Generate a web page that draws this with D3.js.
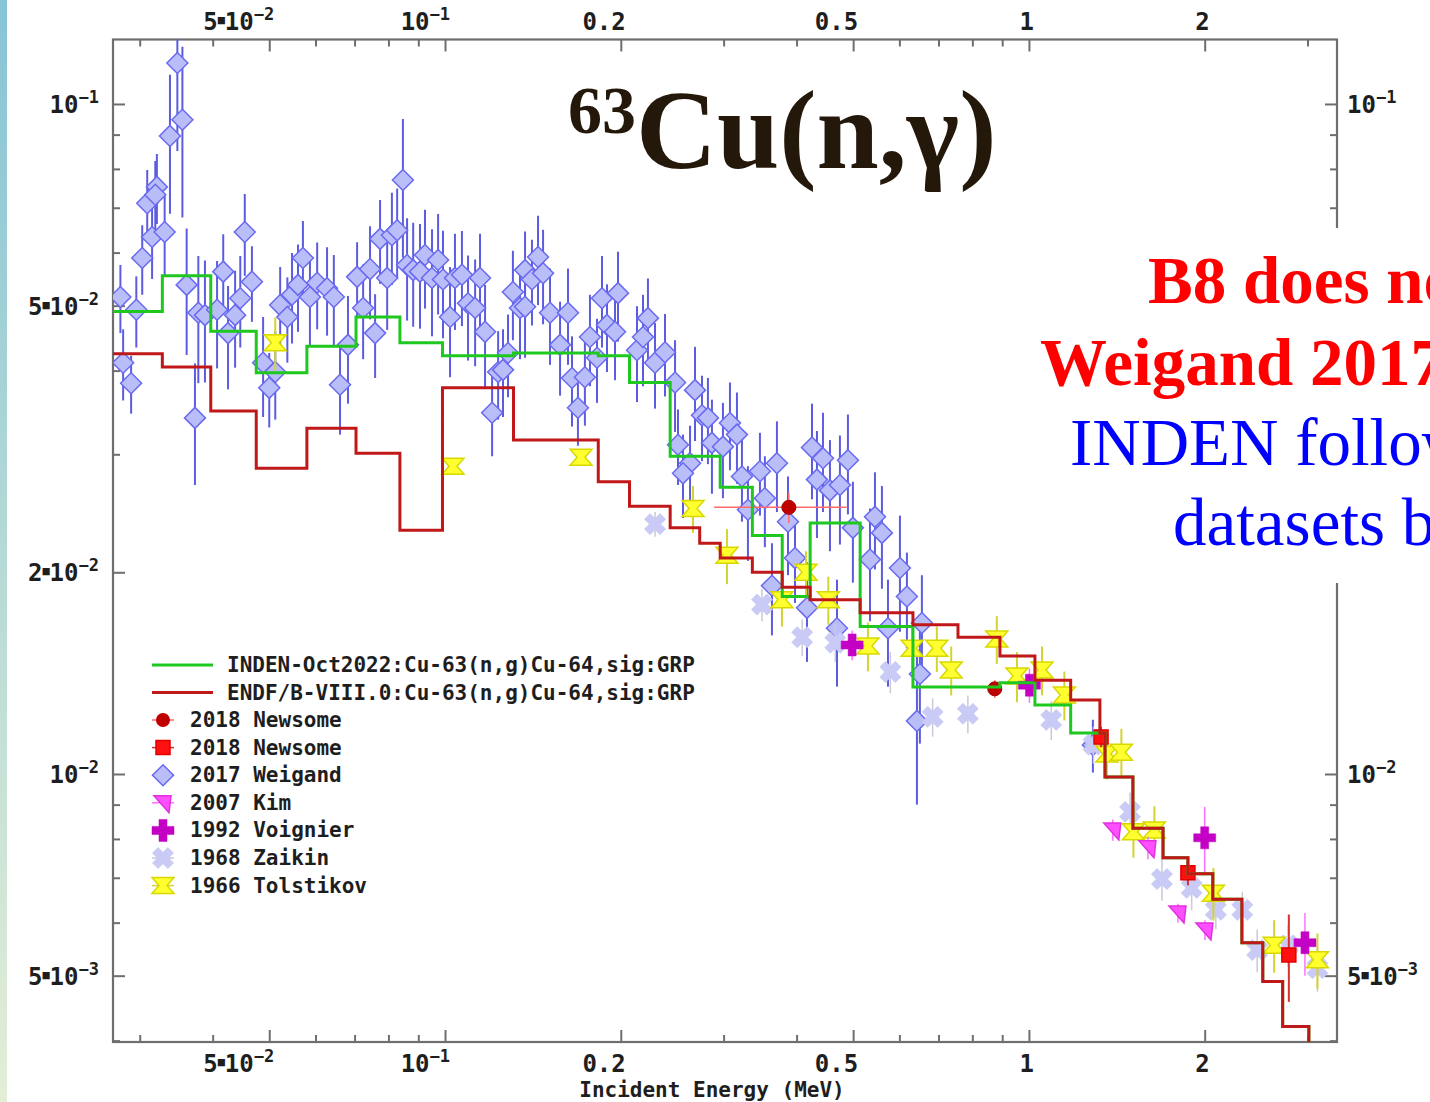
<!DOCTYPE html>
<html>
<head>
<meta charset="utf-8">
<script src="https://cdn.jsdelivr.net/npm/d3@7"></script>
<style>
  body { margin: 0; background: #fff; overflow: hidden; }
  svg { display: block; }
</style>
</head>
<body>
<svg id="chart" width="1430" height="1102"></svg>
<script>
// ---- Evaluated group-wise cross sections (MeV, barn) ----
const indenEdges  = [0.027, 0.0328, 0.0397, 0.0475, 0.058, 0.0704, 0.0837, 0.099, 0.131, 0.183, 0.207, 0.243, 0.296, 0.336, 0.378, 0.422, 0.514, 0.633, 0.892, 1.024, 1.179, 1.323, 1.35, 1.507, 1.697, 1.872, 2.065, 2.316, 2.515, 2.72, 3.016, 3.4];
const indenValues = [0.0490, 0.0554, 0.0458, 0.0397, 0.0435, 0.0481, 0.0440, 0.0421, 0.0425, 0.0421, 0.0384, 0.0298, 0.0268, 0.0227, 0.0184, 0.0237, 0.0166, 0.01349, 0.01368, 0.01268, 0.01151, 0.0115, 0.0099, 0.0083, 0.0075, 0.0071, 0.0065, 0.0056, 0.0049, 0.0042, 0.0038];

const endfEdges  = [0.027, 0.0328, 0.0397, 0.0475, 0.058, 0.0704, 0.0837, 0.099, 0.131, 0.183, 0.207, 0.243, 0.273, 0.296, 0.336, 0.378, 0.422, 0.514, 0.633, 0.756, 0.892, 1.024, 1.179, 1.323, 1.35, 1.507, 1.697, 1.872, 2.065, 2.316, 2.515, 2.72, 3.016, 3.4];
const endfValues = [0.0424, 0.0405, 0.0348, 0.0286, 0.0328, 0.0301, 0.0231, 0.0377, 0.0315, 0.0273, 0.0251, 0.0233, 0.0221, 0.0210, 0.0200, 0.0190, 0.0182, 0.0174, 0.0167, 0.0160, 0.0150, 0.0138, 0.0129, 0.0115, 0.0099, 0.0083, 0.0075, 0.0071, 0.0065, 0.0056, 0.0049, 0.0042, 0.0038];

// ---- Measured data: [energy MeV, sigma b, d-sigma b, (d-energy MeV)] ----
const newsomeCircle = [[0.388, 0.0250, 0.0013, 0.099], [0.874, 0.01340, 0.0004, 0.0]];
const newsomeSquare = [[1.329, 0.01136, 0.0004], [1.872, 0.00712, 0.0003], [2.787, 0.00537, 0.0008]];

const weigand = [
  [0.0278,0.0515,0.006],[0.0281,0.0411,0.005],[0.0290,0.0383,0.0038],[0.0296,0.0493,0.006],
  [0.0303,0.0589,0.007],[0.0309,0.0711,0.0086],[0.0315,0.0633,0.0085],[0.0321,0.0752,0.009],
  [0.0319,0.0732,0.009],[0.0331,0.0644,0.009],[0.0338,0.0896,0.021],[0.0348,0.1151,0.03],
  [0.0355,0.0947,0.027],[0.0361,0.0537,0.0115],[0.0373,0.0340,0.007],[0.0378,0.0488,0.0105],
  [0.0388,0.0484,0.01],[0.0407,0.0493,0.009],[0.0417,0.0562,0.0077],[0.0425,0.0455,0.008],
  [0.0437,0.0484,0.008],[0.0446,0.0513,0.008],[0.0454,0.0644,0.009],[0.0467,0.0543,0.007],
  [0.0488,0.0411,0.007],[0.0500,0.0377,0.0048],[0.0512,0.0398,0.006],[0.0522,0.0501,0.007],
  [0.0537,0.0481,0.007],[0.0547,0.0519,0.008],[0.0560,0.0537,0.008],[0.0571,0.0589,0.008],
  [0.0587,0.0515,0.008],[0.0604,0.0541,0.008],[0.0628,0.0531,0.008],[0.0645,0.0515,0.008],
  [0.0661,0.0381,0.006],[0.0682,0.0437,0.008],[0.0707,0.0552,0.007],[0.0724,0.0496,0.008],
  [0.0744,0.0567,0.009],[0.0759,0.0455,0.0065],[0.0774,0.0629,0.009],[0.0796,0.0550,0.009],
  [0.0811,0.0637,0.01],[0.0828,0.0648,0.01],[0.0847,0.0770,0.018],[0.0861,0.0575,0.01],
  [0.0882,0.0565,0.01],[0.0906,0.0562,0.01],[0.0924,0.0595,0.01],[0.0950,0.0550,0.01],
  [0.0973,0.0585,0.01],[0.0992,0.0547,0.01],[0.1020,0.0481,0.009],[0.1040,0.0550,0.009],
  [0.1069,0.0556,0.009],[0.1095,0.0504,0.009],[0.1126,0.0496,0.009],[0.1148,0.0550,0.009],
  [0.1171,0.0457,0.008],[0.1204,0.0346,0.0048],[0.1233,0.0398,0.006],[0.1257,0.0401,0.006],
  [0.1282,0.0425,0.006],[0.1307,0.0524,0.008],[0.1344,0.0496,0.008],[0.1371,0.0565,0.008],
  [0.1409,0.0547,0.008],[0.1443,0.0591,0.009],[0.1472,0.0559,0.009],[0.1371,0.0498,0.008],
  [0.1513,0.0488,0.008],[0.1624,0.0488,0.008],[0.1574,0.0437,0.007],[0.1650,0.0390,0.006],
  [0.1689,0.0352,0.0043],[0.1736,0.0391,0.006],[0.1771,0.0449,0.007],[0.1857,0.0513,0.008],
  [0.1894,0.0468,0.007],[0.1978,0.0522,0.008],[0.1955,0.0457,0.007],[0.1821,0.0418,0.006],
  [0.2132,0.0429,0.007],[0.2183,0.0449,0.007],[0.2226,0.0479,0.007],[0.2289,0.0411,0.006],
  [0.2381,0.0426,0.006],[0.2477,0.0384,0.006],[0.2680,0.0374,0.006],[0.2755,0.0343,0.005],
  [0.2820,0.0340,0.005],[0.2865,0.0312,0.005],[0.2992,0.0308,0.005],[0.3076,0.0334,0.005],
  [0.3162,0.0321,0.005],[0.2506,0.0310,0.004],[0.2628,0.0291,0.004],[0.2556,0.0281,0.004],
  [0.3225,0.0278,0.004],[0.3302,0.0248,0.004],[0.3462,0.0283,0.004],[0.3530,0.0258,0.004],
  [0.3702,0.0291,0.0045],[0.3867,0.0238,0.004],[0.3975,0.0210,0.003],[0.3630,0.0191,0.003],
  [0.4168,0.0177,0.003],[0.4251,0.0307,0.005],[0.4335,0.0275,0.005],[0.4439,0.0296,0.005],
  [0.4563,0.0265,0.005],[0.4746,0.0270,0.005],[0.4898,0.0294,0.005],[0.4995,0.0233,0.004],
  [0.5343,0.0209,0.004],[0.5449,0.0242,0.004],[0.5601,0.0229,0.004],[0.6013,0.0203,0.004],
  [0.6181,0.0184,0.003],[0.4691,0.0165,0.003],[0.5736,0.0165,0.003],[0.6557,0.0168,0.003],
  [0.6505,0.0141,0.003],[0.643,0.0120,0.003],[1.287,0.01105,0.001]
];

const kim = [[1.392, 0.00825, 0.0003], [1.599, 0.00776, 0.0003], [1.800, 0.00620, 0.0002], [2.002, 0.00585, 0.0002]];
const voignier = [[0.498, 0.01558, 0.0008], [1.002, 0.01357, 0.0008], [2.000, 0.00803, 0.0009], [2.970, 0.00560, 0.0006]];
const zaikin = [
  [0.2289,0.0236,0.001],[0.3490,0.0179,0.001],[0.409,0.0160,0.001],[0.466,0.0157,0.001],
  [0.579,0.0142,0.001],[0.684,0.01217,0.0008],[0.786,0.0123,0.0008],[1.092,0.01204,0.0008],
  [1.29,0.01106,0.0007],[1.49,0.00878,0.0006],[1.69,0.00697,0.0005],[1.90,0.00676,0.0005],
  [2.09,0.00627,0.0004],[2.32,0.00627,0.0004],[2.46,0.00546,0.0004],[2.78,0.00555,0.0004],[3.12,0.00513,0.0004]
];
const tolstikov = [
  [0.0512,0.0440,0.004],[0.1032,0.0288,0.0006],[0.1710,0.0297,0.0006],[0.2659,0.0249,0.002],
  [0.3040,0.0212,0.002],[0.3776,0.0182,0.0016],[0.4152,0.0200,0.0015],[0.4534,0.0182,0.0015],
  [0.530,0.01553,0.0013],[0.631,0.0154,0.0012],[0.6955,0.0154,0.0012],[0.7361,0.0143,0.0012],
  [0.881,0.0159,0.0013],[0.954,0.0140,0.0012],[1.053,0.0143,0.0012],[1.15,0.01312,0.0011],
  [1.36,0.01071,0.0009],[1.44,0.01078,0.0009],[1.51,0.00820,0.0007],[1.64,0.00825,0.0007],
  [2.07,0.00664,0.0006],[2.63,0.00555,0.0005],[3.12,0.00528,0.0005]
];

const xTickMajor = [0.05, 0.1, 0.2, 0.5, 1, 2];
const xTickLabels = [["5", "−2"], ["", "−1"], ["0.2"], ["0.5"], ["1"], ["2"]];
const yTickMajor = [0.1, 0.05, 0.02, 0.01, 0.005];
const yTickLabels = [["", "−1"], ["5", "−2"], ["2", "−2"], ["", "−2"], ["5", "−3"]];

const legendLines = ["INDEN-Oct2022:Cu-63(n,g)Cu-64,sig:GRP", "ENDF/B-VIII.0:Cu-63(n,g)Cu-64,sig:GRP"];
const legendSeries = ["2018 Newsome", "2018 Newsome", "2017 Weigand", "2007 Kim", "1992 Voignier", "1968 Zaikin", "1966 Tolstikov"];
const noteLines = ["B8 does not", "Weigand 2017", "INDEN follows", "datasets b"];

// ---- Layout ----
const P = { left: 113, right: 1337, top: 39.5, bottom: 1042 };
const panel = { x: 1035, y: 228, w: 400, h: 355 };   // white annotation panel on the right
const x = d3.scaleLog().domain([0.027, 3.37]).range([P.left, P.right]);
const y = d3.scaleLog().domain([0.1248, 0.003981]).range([P.top, P.bottom]);

const svg = d3.select("#chart");
const MONO = "'DejaVu Sans Mono', monospace";
const SERIF = "'Liberation Serif', 'Times New Roman', serif";

// left decorative strip
const defs = svg.append("defs");
const grad = defs.append("linearGradient").attr("id", "strip").attr("x1", 0).attr("x2", 0).attr("y1", 0).attr("y2", 1);
grad.append("stop").attr("offset", "0%").attr("stop-color", "#86c4d6");
grad.append("stop").attr("offset", "100%").attr("stop-color", "#e3eed6");
svg.append("rect").attr("x", 0).attr("y", 0).attr("width", 7).attr("height", 1102).attr("fill", "url(#strip)");

defs.append("clipPath").attr("id", "plotClip").append("rect")
  .attr("x", P.left).attr("y", P.top).attr("width", P.right - P.left).attr("height", P.bottom - P.top);

// ---- Ticks ----
function logTicks(lo, hi) {
  const out = [];
  for (let e = -3; e <= 1; e++) for (let m = 1; m < 10; m++) {
    const v = m * Math.pow(10, e);
    if (v >= lo && v <= hi) out.push(+v.toPrecision(3));
  }
  return out;
}
const xMinor = logTicks(0.027, 3.37).filter(v => !xTickMajor.some(t => Math.abs(t - v) < 1e-9));
const yMinor = logTicks(0.003981, 0.1248).filter(v => !yTickMajor.some(t => Math.abs(t - v) < 1e-9));

const axisStyle = g => g.call(s => s.select(".domain").remove())
  .call(s => s.selectAll("line").attr("stroke", "#6e6e6e").attr("stroke-width", 2));

svg.append("g").attr("transform", `translate(0,${P.bottom})`)
  .call(d3.axisBottom(x).tickValues(xMinor).tickSize(-7).tickFormat("")).call(axisStyle);
svg.append("g").attr("transform", `translate(0,${P.bottom})`)
  .call(d3.axisBottom(x).tickValues(xTickMajor).tickSize(-12).tickFormat("")).call(axisStyle);
svg.append("g").attr("transform", `translate(0,${P.top})`)
  .call(d3.axisTop(x).tickValues(xMinor).tickSize(-7).tickFormat("")).call(axisStyle);
svg.append("g").attr("transform", `translate(0,${P.top})`)
  .call(d3.axisTop(x).tickValues(xTickMajor).tickSize(-12).tickFormat("")).call(axisStyle);
svg.append("g").attr("transform", `translate(${P.left},0)`)
  .call(d3.axisLeft(y).tickValues(yMinor).tickSize(-7).tickFormat("")).call(axisStyle);
svg.append("g").attr("transform", `translate(${P.left},0)`)
  .call(d3.axisLeft(y).tickValues(yTickMajor).tickSize(-12).tickFormat("")).call(axisStyle);
svg.append("g").attr("transform", `translate(${P.right},0)`)
  .call(d3.axisRight(y).tickValues(yMinor).tickSize(-7).tickFormat("")).call(axisStyle);
svg.append("g").attr("transform", `translate(${P.right},0)`)
  .call(d3.axisRight(y).tickValues(yTickMajor).tickSize(-12).tickFormat("")).call(axisStyle);

// frame
svg.append("rect").attr("x", P.left).attr("y", P.top)
  .attr("width", P.right - P.left).attr("height", P.bottom - P.top)
  .attr("fill", "none").attr("stroke", "#6e6e6e").attr("stroke-width", 2.2);

// tick labels: mantissa × 10^exp
function tickLabel(g, lab, px, py, anchor) {
  const t = g.append("text").attr("x", px).attr("y", py).attr("text-anchor", anchor)
    .attr("font-family", MONO).attr("font-weight", "bold").attr("font-size", 24).attr("fill", "#1e1e1e");
  if (lab.length === 1) { t.text(lab[0]); return; }
  if (lab[0]) {
    t.append("tspan").text(lab[0]);
    t.append("tspan").attr("font-size", 12).attr("dy", -6).text("■");
    t.append("tspan").attr("dy", 6).text("10");
  } else t.append("tspan").text("10");
  t.append("tspan").attr("font-size", 17).attr("dy", -10).text(lab[1]);
}
const labels = svg.append("g");
xTickMajor.forEach((v, i) => {
  tickLabel(labels, xTickLabels[i], x(v) + 5, 30, "end");
  tickLabel(labels, xTickLabels[i], x(v) + 5, 1072, "end");
});
yTickMajor.forEach((v, i) => {
  tickLabel(labels, yTickLabels[i], 99, y(v) + 9, "end");
  const yy = y(v);
  if (yy < panel.y - 10 || yy > panel.y + panel.h + 10)   // right-hand labels behind the panel stay hidden
    tickLabel(labels, yTickLabels[i], 1347, yy + 9, "start");
});

svg.append("text").attr("x", 712).attr("y", 1097).attr("text-anchor", "middle")
  .attr("font-family", MONO).attr("font-weight", "bold").attr("font-size", 21).attr("fill", "#1e1e1e")
  .text("Incident Energy (MeV)");

// ---- Marker shapes ----
const plusPath = "M-4,-11H4V-4H11V4H4V11H-4V4H-11V-4H-4Z";
const shapes = {
  diamond: "M0,-10.5L10.5,0L0,10.5L-10.5,0Z",
  square: "M-7,-7H7V7H-7Z",
  flag: "M-9,-7L8,-7L6,10Z",
  plus: plusPath,
  cross: plusPath,
  hourglass: "M-11,-8L11,-8L4,0L11,8L-11,8L-4,0Z"
};
const shapeRotate = { cross: 45 };

const plot = svg.append("g").attr("clip-path", "url(#plotClip)");

function markerTransform(shape, px, py) {
  return `translate(${px},${py})` + (shapeRotate[shape] ? ` rotate(${shapeRotate[shape]})` : "");
}

function drawSeries(data, opt) {
  const g = plot.append("g");
  g.selectAll("line.v").data(data).join("line")
    .attr("x1", d => x(d[0])).attr("x2", d => x(d[0]))
    .attr("y1", d => y(d[1] + d[2])).attr("y2", d => y(Math.max(d[1] - d[2], 1e-4)))
    .attr("stroke", opt.bar).attr("stroke-width", opt.barW || 2);
  g.selectAll("line.h").data(data.filter(d => d[3])).join("line")
    .attr("x1", d => x(d[0] - d[3])).attr("x2", d => x(d[0] + d[3]))
    .attr("y1", d => y(d[1])).attr("y2", d => y(d[1]))
    .attr("stroke", opt.bar).attr("stroke-width", opt.barW || 2);
  if (opt.circle) {
    g.selectAll("circle").data(data).join("circle")
      .attr("cx", d => x(d[0])).attr("cy", d => y(d[1])).attr("r", 7)
      .attr("fill", opt.fill).attr("stroke", opt.stroke).attr("stroke-width", 1);
  } else {
    g.selectAll("path").data(data).join("path")
      .attr("transform", d => markerTransform(opt.shape, x(d[0]), y(d[1])))
      .attr("d", shapes[opt.shape]).attr("fill", opt.fill)
      .attr("stroke", opt.stroke).attr("stroke-width", opt.sw || 1.5);
  }
}

const styles = [
  { circle: true, fill: "#c00000", stroke: "#a00000", bar: "#ff6a6a", barW: 1.5 },
  { shape: "square", fill: "#ff1010", stroke: "#e00000", bar: "#d83030", barW: 2 },
  { shape: "diamond", fill: "#b9bdf8", stroke: "#6a6af0", bar: "#5c5ce0", barW: 2 },
  { shape: "flag", fill: "#ff50ff", stroke: "#e030e0", bar: "#ff70ff", barW: 1.5 },
  { shape: "plus", fill: "#c400c4", stroke: "#c400c4", bar: "#ff70ff", barW: 1.5, sw: 0.5 },
  { shape: "cross", fill: "#c9cbf6", stroke: "#c2c4f0", bar: "#c9c9d8", barW: 1.5, sw: 0.5 },
  { shape: "hourglass", fill: "#ffff30", stroke: "#d8d800", bar: "#d4d430", barW: 2 }
];

drawSeries(weigand, styles[2]);
drawSeries(zaikin, styles[5]);
drawSeries(tolstikov, styles[6]);
drawSeries(kim, styles[3]);
drawSeries(voignier, styles[4]);
drawSeries(newsomeCircle, styles[0]);
drawSeries(newsomeSquare, styles[1]);

// ---- Step curves ----
function steps(edges, vals) {
  const pts = [];
  vals.forEach((v, i) => { pts.push([edges[i], v]); pts.push([edges[i + 1], v]); });
  return pts;
}
const line = d3.line().x(d => x(d[0])).y(d => y(d[1]));
plot.append("path").attr("d", line(steps(indenEdges, indenValues)))
  .attr("fill", "none").attr("stroke", "#1ec81e").attr("stroke-width", 3);
plot.append("path").attr("d", line(steps(endfEdges, endfValues)))
  .attr("fill", "none").attr("stroke", "#c01818").attr("stroke-width", 3);

// ---- Legend ----
const leg = svg.append("g");
const lineColors = ["#1ec81e", "#c01818"];
legendLines.forEach((t, i) => {
  const ly = 665 + i * 27.5;
  leg.append("line").attr("x1", 152).attr("x2", 213).attr("y1", ly).attr("y2", ly)
    .attr("stroke", lineColors[i]).attr("stroke-width", 3);
  leg.append("text").attr("x", 227).attr("y", ly + 7).attr("font-family", MONO).attr("font-weight", "bold")
    .attr("font-size", 21).attr("fill", "#1e1e1e").text(t);
});
legendSeries.forEach((t, i) => {
  const ly = 720 + i * 27.6, lx = 163, s = styles[i];
  leg.append("line").attr("x1", lx - 11).attr("x2", lx + 11).attr("y1", ly).attr("y2", ly)
    .attr("stroke", s.bar).attr("stroke-width", 1.5);
  if (s.circle) leg.append("circle").attr("cx", lx).attr("cy", ly).attr("r", 7).attr("fill", s.fill);
  else leg.append("path").attr("transform", markerTransform(s.shape, lx, ly)).attr("d", shapes[s.shape])
    .attr("fill", s.fill).attr("stroke", s.stroke).attr("stroke-width", s.sw || 1.5);
  leg.append("text").attr("x", 190).attr("y", ly + 7).attr("font-family", MONO).attr("font-weight", "bold")
    .attr("font-size", 21).attr("fill", "#1e1e1e").text(t);
});

// ---- Title ----
const title = svg.append("text").attr("x", 568).attr("y", 168).attr("font-family", SERIF)
  .attr("font-weight", "bold").attr("fill", "#24180a");
title.append("tspan").attr("font-size", 68).attr("dy", -35).text("63");
title.append("tspan").attr("font-size", 112).attr("dy", 35).text("Cu(n,γ)");

// ---- Annotation panel ----
svg.append("rect").attr("x", panel.x).attr("y", panel.y).attr("width", panel.w).attr("height", panel.h).attr("fill", "#fff");
const noteX = [1148, 1040, 1070, 1173], noteY = [303, 385, 465, 545];
const noteColor = ["#ff0000", "#ff0000", "#0000ff", "#0000ff"];
noteLines.forEach((t, i) => {
  svg.append("text").attr("x", noteX[i]).attr("y", noteY[i]).attr("font-family", SERIF)
    .attr("font-weight", i < 2 ? "bold" : "normal").attr("font-size", 67)
    .attr("fill", noteColor[i]).text(t);
});
</script>
</body>
</html>
